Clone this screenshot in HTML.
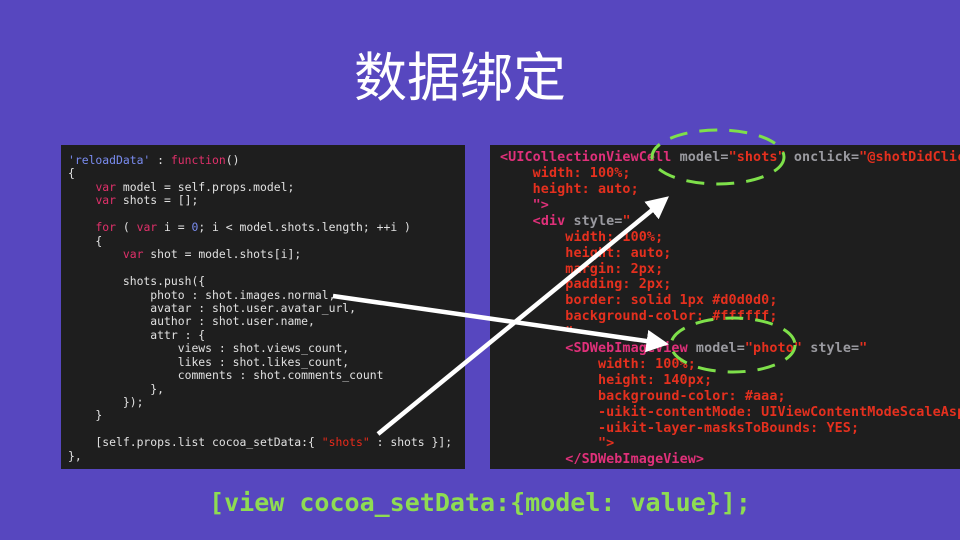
<!DOCTYPE html>
<html><head><meta charset="utf-8"><style>
body{margin:0;width:960px;height:540px;background:#5747bf;position:relative;overflow:hidden}
.t{position:absolute;left:0;width:920px;top:47px;text-align:center;color:#fff;font:53px "Liberation Sans","Noto Sans CJK SC",sans-serif;line-height:64px}
.p{position:absolute;background:#1e1e1e;overflow:hidden}
.p div{position:absolute;white-space:pre;font-family:"DejaVu Sans Mono","Liberation Mono",monospace}
.l div{font-size:11.4px;color:#e0e0e0;left:7px}
.r div{font-size:13.4px;color:#e5301e;left:10px;font-weight:bold;letter-spacing:0.1px}
.k{color:#e0306a}.s{color:#ea2a1a}.b{color:#7a8cf0}.g{color:#9a9aa0}.tg{color:#e0307a}
.bt{position:absolute;left:0;width:960px;top:488px;text-align:center;color:#8edc52;font:bold 25px "DejaVu Sans Mono","Liberation Mono",monospace}
</style></head><body>
<div class="t">数据绑定</div>
<div class="p l" style="left:61px;top:145px;width:404px;height:324px">
<div style="top:8px"><span class="b">'reloadData'</span> : <span class="k">function</span>()</div>
<div style="top:21px">{</div>
<div style="top:35px">    <span class="k">var</span> model = self.props.model;</div>
<div style="top:48px">    <span class="k">var</span> shots = [];</div>
<div style="top:75px">    <span class="k">for</span> ( <span class="k">var</span> i = <span class="b">0</span>; i &lt; model.shots.length; ++i )</div>
<div style="top:89px">    {</div>
<div style="top:102px">        <span class="k">var</span> shot = model.shots[i];</div>
<div style="top:129px">        shots.push({</div>
<div style="top:143px">            photo : shot.images.normal,</div>
<div style="top:156px">            avatar : shot.user.avatar_url,</div>
<div style="top:169px">            author : shot.user.name,</div>
<div style="top:183px">            attr : {</div>
<div style="top:196px">                views : shot.views_count,</div>
<div style="top:210px">                likes : shot.likes_count,</div>
<div style="top:223px">                comments : shot.comments_count</div>
<div style="top:237px">            },</div>
<div style="top:250px">        });</div>
<div style="top:263px">    }</div>
<div style="top:290px">    [self.props.list cocoa_setData:{ <span class="s">"shots"</span> : shots }];</div>
<div style="top:304px">},</div>
</div>
<div class="p r" style="left:490px;top:145px;width:470px;height:324px">
<div style="top:5px"><span class="tg">&lt;UICollectionViewCell</span> <span class="g">model=</span>"shots" <span class="g">onclick=</span>"@shotDidClick"</div>
<div style="top:21px">    width: 100%;</div>
<div style="top:37px">    height: auto;</div>
<div style="top:53px"><span class="tg">    "&gt;</span></div>
<div style="top:69px">    <span class="tg">&lt;div</span> <span class="g">style=</span>"</div>
<div style="top:85px">        width: 100%;</div>
<div style="top:101px">        height: auto;</div>
<div style="top:117px">        margin: 2px;</div>
<div style="top:132px">        padding: 2px;</div>
<div style="top:148px">        border: solid 1px #d0d0d0;</div>
<div style="top:164px">        background-color: #ffffff;</div>
<div style="top:180px">        "</div>
<div style="top:196px">        <span class="tg">&lt;SDWebImageView</span> <span class="g">model=</span>"photo" <span class="g">style=</span>"</div>
<div style="top:212px">            width: 100%;</div>
<div style="top:228px">            height: 140px;</div>
<div style="top:244px">            background-color: #aaa;</div>
<div style="top:260px">            -uikit-contentMode: UIViewContentModeScaleAspectFill;</div>
<div style="top:276px">            -uikit-layer-masksToBounds: YES;</div>
<div style="top:291px">            "&gt;</div>
<div style="top:307px">        <span class="tg">&lt;/SDWebImageView&gt;</span></div>
</div>
<svg width="960" height="540" style="position:absolute;left:0;top:0">
<defs><marker id="a" markerWidth="5" markerHeight="5" refX="3" refY="2.5" orient="auto" markerUnits="strokeWidth"><path d="M0,0L5,2.5L0,5z" fill="#fff"/></marker></defs>
<line x1="333" y1="296" x2="660" y2="343" stroke="#fff" stroke-width="4.5" marker-end="url(#a)"/>
<line x1="378" y1="434" x2="662" y2="202" stroke="#fff" stroke-width="4.5" marker-end="url(#a)"/>
<ellipse cx="718" cy="157" rx="66" ry="27" fill="none" stroke="#7ee04a" stroke-width="3" stroke-dasharray="18 12"/>
<ellipse cx="733" cy="345" rx="62" ry="27" fill="none" stroke="#7ee04a" stroke-width="3" stroke-dasharray="18 12"/>
</svg>
<div class="bt">[view cocoa_setData:{model: value}];</div>
</body></html>
